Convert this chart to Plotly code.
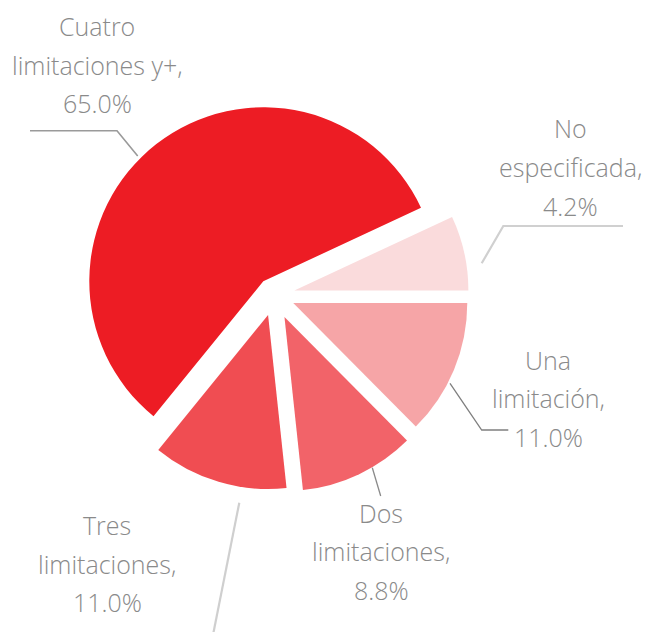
import plotly.graph_objects as go

categories = ["Una limitación", "Dos limitaciones", "Tres limitaciones",
              "Cuatro limitaciones y+", "No especificada"]
label_lines = [["Una", "limitación,"], ["Dos", "limitaciones,"],
               ["Tres", "limitaciones,"], ["Cuatro", "limitaciones y+,"],
               ["No", "especificada,"]]
values = [11.0, 8.8, 11.0, 65.0, 4.2]

# ---- styles ----
colors = ["#F6A5A7", "#F26369", "#F04D52", "#ED1C24", "#FADBDC"]
pulls = [0.12, 0.14, 0.12, 0.10, 0.12]
W, H = 646, 632
OFF = 0                 # page body margin is removed by the post script below
PAD_DEG = 12.5          # angular padding added to every slice (as in the source chart)
CX, CY, R = 274.0, 295.0, 174.0   # pie centre / slice radius in page px

n = len(values)
total = sum(values)
shares = [v / total * (1 - n * PAD_DEG / 360) + PAD_DEG / 360 for v in values]


def px(x):
    return (x - OFF) / W


def py(y):
    return 1 - (y - OFF) / H


half = R * (1 + max(pulls))
fig = go.Figure(go.Pie(
    labels=categories,
    values=shares,
    sort=False,
    direction="clockwise",
    rotation=90,
    pull=pulls,
    marker=dict(colors=colors, line=dict(width=0)),
    textinfo="none",
    hoverinfo="skip",
    showlegend=False,
    domain=dict(x=[px(CX - half), px(CX + half)], y=[py(CY + half), py(CY - half)]),
))

# label layout: centre x and first baseline y (page px), connector polyline, colour, width
label_pos = [(548, 368.5), (381, 521.5), (107, 534), (97, 35), (570, 137.5)]
LINE_STEP = 38.7
connectors = [
    ([(450, 383.3), (481.7, 430), (508.3, 430)], "#7f7f7f", 1.3),
    ([(372.3, 467.7), (380.7, 496)], "#8a8a8a", 1.3),
    ([(239.3, 502.7), (211.0, 645)], "#cfcfcf", 2.2),
    ([(30, 130.7), (117, 130.7), (137.7, 156)], "#9a9a9a", 1.6),
    ([(623, 226), (503.3, 226), (481.7, 263.3)], "#d0d0d0", 2.2),
]

FSIZE = 25
FONT = dict(family="Open Sans, Lato, sans-serif", size=FSIZE, color="#8a8a8a", weight=300)
annotations = []
shapes = []
for i, v in enumerate(values):
    lines = label_lines[i] + [f"{v:.1f}%"]
    lx, ly = label_pos[i]
    for k, t in enumerate(lines):
        base = ly + k * LINE_STEP
        annotations.append(dict(
            x=px(lx), y=py(base - 0.36 * FSIZE), xref="paper", yref="paper",
            text=t, showarrow=False, xanchor="center", yanchor="middle",
            font=FONT,
        ))
    pts, col, lw = connectors[i]
    path = "M " + " L ".join(f"{px(a)},{py(b)}" for a, b in pts)
    shapes.append(dict(type="path", path=path, xref="paper", yref="paper",
                       line=dict(color=col, width=lw)))

fig.update_layout(
    width=W, height=H, autosize=False,
    margin=dict(l=0, r=0, t=0, b=0),
    paper_bgcolor="white", plot_bgcolor="white",
    annotations=annotations, shapes=shapes,
)

fig.write_html("out.html",
               config={"displayModeBar": False},
               post_script="document.body.style.margin='0px';"
                           "document.body.style.overflow='hidden';")
